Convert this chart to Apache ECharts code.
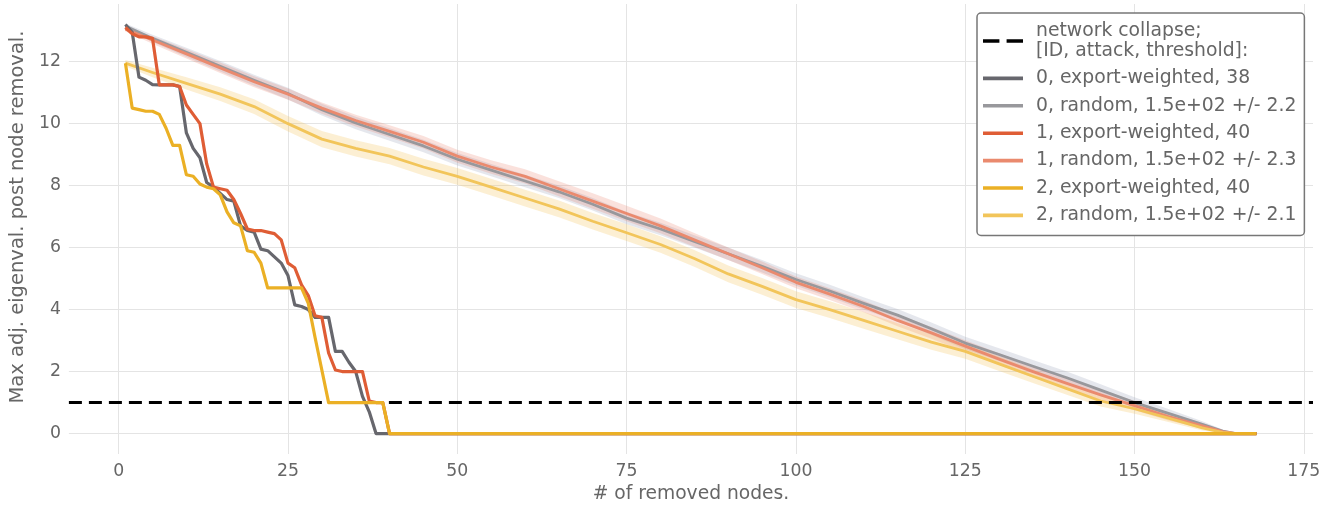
<!DOCTYPE html>
<html><head><meta charset="utf-8">
<script src="https://cdn.jsdelivr.net/npm/echarts@6/dist/echarts.min.js"></script>
<style>html,body{margin:0;padding:0;background:#fff}#c{width:1338px;height:509px}</style>
</head><body><div id="c"></div>
<script>
// ---- tick labels ----
const xTicks = [0, 25, 50, 75, 100, 125, 150, 175];
const yTicks = [0, 2, 4, 6, 8, 10, 12];
const collapseLevel = 1;

// ---- targeted (export-weighted) attacks ----
const exportX = [1,2,3,4,5,6,7,8,9,10,11,12,13,14,15,16,17,18,19,20,21,22,23,24,25,26,27,28,29,30,31,32,33,34,35,36,37,38,39,40,168];
const export0 = [13.2,12.95,11.5,11.4,11.26,11.25,11.25,11.25,11.2,9.7,9.2,8.9,8.1,7.95,7.75,7.55,7.5,6.7,6.55,6.5,5.95,5.9,5.7,5.5,5.1,4.15,4.1,4.0,3.75,3.75,3.75,2.65,2.65,2.3,2.0,1.2,0.7,0,0,0,0];
const export1 = [13.1,12.9,12.8,12.8,12.75,11.25,11.25,11.25,11.2,10.6,10.3,10.0,8.7,7.95,7.9,7.85,7.55,7.1,6.6,6.55,6.55,6.5,6.45,6.25,5.5,5.35,4.8,4.45,3.8,3.75,2.6,2.05,2.0,2.0,2.0,2.0,1.05,1.0,1.0,0,0];
const export2 = [11.95,10.5,10.45,10.4,10.4,10.3,9.85,9.3,9.3,8.35,8.3,8.05,7.95,7.9,7.7,7.15,6.8,6.7,5.9,5.85,5.5,4.7,4.7,4.7,4.7,4.7,4.7,4.2,3.1,2.05,1.0,1.0,1.0,1.0,1.0,1.0,1.0,1.0,1.0,0,0];

// ---- random attacks (mean and band half-width) ----
const randomX = [1,5,10,15,20,25,30,35,40,45,50,55,60,65,70,75,80,85,90,95,100,105,110,115,120,125,130,135,140,145,150,155,160,163,165,168];
const random0 = [13.15,12.75,12.3,11.85,11.4,10.97,10.45,10.02,9.65,9.28,8.85,8.5,8.15,7.8,7.4,6.95,6.6,6.2,5.8,5.4,4.97,4.6,4.2,3.82,3.38,2.92,2.55,2.17,1.8,1.4,1.0,0.65,0.3,0.08,0.0,0.0];
const random1 = [13.05,12.7,12.25,11.8,11.35,10.95,10.5,10.1,9.75,9.4,8.95,8.6,8.3,7.9,7.5,7.1,6.7,6.25,5.8,5.35,4.88,4.5,4.1,3.65,3.25,2.82,2.4,2.0,1.62,1.25,0.9,0.55,0.25,0.06,0.0,0.0];
const random2 = [11.95,11.65,11.3,10.95,10.55,10.0,9.5,9.2,8.95,8.6,8.3,7.95,7.6,7.25,6.85,6.48,6.1,5.65,5.15,4.75,4.32,4.0,3.65,3.3,2.95,2.65,2.25,1.85,1.45,1.05,0.8,0.5,0.18,0.04,0.0,0.0];
const band0 = [0.08,0.12,0.15,0.17,0.18,0.19,0.19,0.2,0.2,0.2,0.2,0.2,0.2,0.2,0.2,0.2,0.2,0.2,0.2,0.2,0.2,0.2,0.2,0.2,0.2,0.2,0.2,0.2,0.2,0.19,0.17,0.14,0.1,0.05,0.02,0];
const band1 = [0.08,0.12,0.15,0.17,0.18,0.18,0.18,0.19,0.2,0.2,0.21,0.22,0.23,0.24,0.25,0.25,0.24,0.22,0.2,0.2,0.19,0.19,0.19,0.19,0.19,0.19,0.19,0.19,0.18,0.17,0.15,0.13,0.09,0.05,0.02,0];
const band2 = [0.1,0.15,0.2,0.22,0.24,0.25,0.26,0.26,0.26,0.27,0.27,0.27,0.27,0.27,0.27,0.27,0.27,0.27,0.27,0.27,0.27,0.27,0.27,0.26,0.25,0.24,0.23,0.22,0.2,0.18,0.16,0.13,0.08,0.04,0.02,0];

const names = [
  'network collapse;\n[ID, attack, threshold]:',
  '0, export-weighted, 38',
  '0, random, 1.5e+02 +/- 2.2',
  '1, export-weighted, 40',
  '1, random, 1.5e+02 +/- 2.3',
  '2, export-weighted, 40',
  '2, random, 1.5e+02 +/- 2.1'
];

const FONT = 'DejaVu Sans';
const X_MIN = -7.35, X_MAX = 176.35;
const SOLID_ICON = 'path://M0 0H40V3.6H0Z';
const DASH_ICON = 'path://M0 0H16V3.6H0Z M23 0H39V3.6H23Z';

function pairs(xs, ys) { return xs.map((x, i) => [x, ys[i]]); }

function band(mean, half, color, z) {
  return {
    type: 'custom', silent: true, z: z, clip: true,
    data: [[randomX[0], mean[0]]],
    renderItem: function (params, api) {
      const pts = [];
      for (let i = 0; i < randomX.length; i++) pts.push(api.coord([randomX[i], mean[i] + half[i]]));
      for (let i = randomX.length - 1; i >= 0; i--) pts.push(api.coord([randomX[i], mean[i] - half[i]]));
      return { type: 'polygon', shape: { points: pts }, style: { fill: color } };
    }
  };
}

function line(name, xs, ys, color, width, z) {
  return {
    type: 'line', name: name, data: pairs(xs, ys), symbol: 'none', z: z,
    lineStyle: { color: color, width: width, join: 'round' }, itemStyle: { color: color },
    animation: false
  };
}

const chart = echarts.init(document.getElementById('c'), null, { renderer: 'canvas' });
chart.setOption({
  animation: false,
  backgroundColor: '#fff',
  textStyle: { fontFamily: FONT },
  grid: { left: 65, right: 25, top: 4, bottom: 54 },
  xAxis: {
    type: 'value', min: X_MIN, max: X_MAX,
    axisLine: { show: false },
    axisTick: { show: false, customValues: xTicks },
    axisLabel: { customValues: xTicks, color: '#666', fontSize: 17.3, margin: 9, fontFamily: FONT },
    splitLine: { show: true, lineStyle: { color: '#e4e4e4', width: 1 } },
    name: '# of removed nodes.', nameLocation: 'middle', nameGap: 31,
    nameTextStyle: { color: '#666', fontSize: 18.7, fontFamily: FONT }
  },
  yAxis: {
    type: 'value', min: -0.66, max: 13.86,
    axisLine: { show: false },
    axisTick: { show: false, customValues: yTicks },
    axisLabel: { customValues: yTicks, color: '#666', fontSize: 17.3, margin: 8, fontFamily: FONT },
    splitLine: { show: true, lineStyle: { color: '#e4e4e4', width: 1 } },
    name: 'Max adj. eigenval. post node removal.', nameLocation: 'middle', nameGap: 38,
    nameTextStyle: { color: '#666', fontSize: 19.5, fontFamily: FONT, padding: [0, 0, 0, 24] }
  },
  legend: {
    left: 977, top: 13, orient: 'vertical',
    itemWidth: 40, itemHeight: 14, itemGap: 7.4,
    padding: [8, 8, 10, 6],
    backgroundColor: '#fff', borderColor: '#777', borderWidth: 1.5, borderRadius: 4,
    textStyle: { fontSize: 18.8, color: '#666', lineHeight: 20, fontFamily: FONT, padding: [0, 0, 0, 8] },
    data: names.map((n, i) => ({ name: n, icon: i === 0 ? DASH_ICON : SOLID_ICON })),
    selectedMode: false, z: 20
  },
  series: [
    band(random0, band0, 'rgba(160,170,190,0.28)', 1),
    band(random1, band1, 'rgba(232,120,95,0.22)', 1),
    band(random2, band2, 'rgba(242,190,80,0.25)', 1),
    line(names[2], randomX, random0, '#98989c', 2.8, 3),
    line(names[4], randomX, random1, '#ea8a6e', 2.8, 3),
    line(names[6], randomX, random2, '#f2c55a', 2.8, 3),
    {
      type: 'line', name: names[0], data: [[X_MIN, collapseLevel], [X_MAX, collapseLevel]],
      symbol: 'none', z: 4, lineStyle: { color: '#000', width: 3, type: [13, 7] }, itemStyle: { color: '#000' }
    },
    line(names[1], exportX, export0, '#67676d', 3.2, 5),
    line(names[3], exportX, export1, '#df5d35', 3.2, 5),
    line(names[5], exportX, export2, '#ebb025', 3.2, 5)
  ]
});
</script>
</body></html>
